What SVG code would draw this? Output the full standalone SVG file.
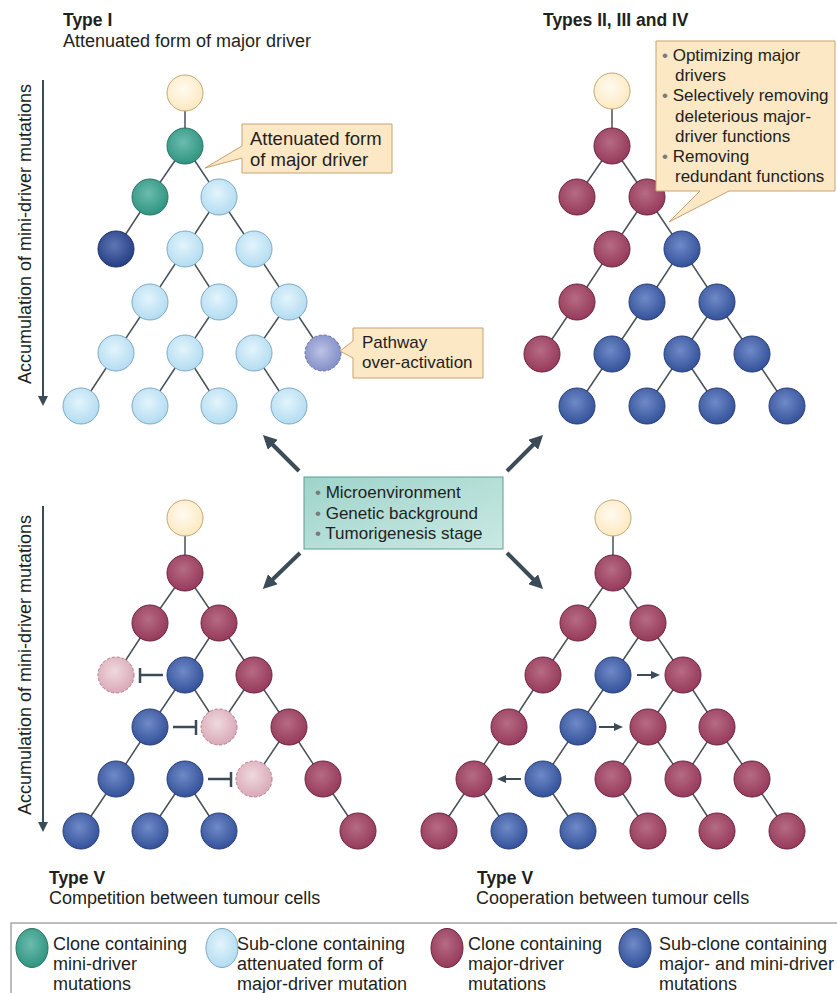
<svg xmlns="http://www.w3.org/2000/svg" width="837" height="993" viewBox="0 0 837 993">
<defs>
<radialGradient id="gy" cx="0.45" cy="0.4" r="0.6"><stop offset="0" stop-color="#fffaf0"/><stop offset="1" stop-color="#fde9c0"/></radialGradient>
<radialGradient id="gt" cx="0.45" cy="0.4" r="0.6"><stop offset="0" stop-color="#6cbcae"/><stop offset="1" stop-color="#2f9480"/></radialGradient>
<radialGradient id="gl" cx="0.45" cy="0.4" r="0.6"><stop offset="0" stop-color="#e3f4fc"/><stop offset="1" stop-color="#b3dcf1"/></radialGradient>
<radialGradient id="gb" cx="0.45" cy="0.4" r="0.6"><stop offset="0" stop-color="#6f8ac8"/><stop offset="1" stop-color="#34529a"/></radialGradient>
<radialGradient id="gb2" cx="0.45" cy="0.4" r="0.6"><stop offset="0" stop-color="#5e76b4"/><stop offset="1" stop-color="#263f84"/></radialGradient>
<radialGradient id="gr" cx="0.45" cy="0.4" r="0.6"><stop offset="0" stop-color="#b66b84"/><stop offset="1" stop-color="#963a5a"/></radialGradient>
<radialGradient id="gp" cx="0.45" cy="0.4" r="0.6"><stop offset="0" stop-color="#efd9df"/><stop offset="1" stop-color="#d9a9b7"/></radialGradient>
<radialGradient id="gv" cx="0.45" cy="0.45" r="0.6"><stop offset="0" stop-color="#bcc3e6"/><stop offset="1" stop-color="#7f8bc4"/></radialGradient>
<linearGradient id="gc" x1="0" y1="0" x2="1" y2="1"><stop offset="0" stop-color="#9fd4cb"/><stop offset="1" stop-color="#c9e9e3"/></linearGradient>
<marker id="ab" markerUnits="userSpaceOnUse" markerWidth="14" markerHeight="14" viewBox="0 0 14 14" refX="4" refY="7" orient="auto"><path d="M0,0 L14,7 L0,14 Z" fill="#3b4b57"/></marker>
<marker id="am" markerUnits="userSpaceOnUse" markerWidth="10" markerHeight="10" viewBox="0 0 10 10" refX="2" refY="5" orient="auto"><path d="M0,0 L10,5 L0,10 Z" fill="#3b4b57"/></marker>
<marker id="as" markerUnits="userSpaceOnUse" markerWidth="9" markerHeight="8" viewBox="0 0 9 8" refX="2" refY="4" orient="auto"><path d="M0,0 L9,4 L0,8 Z" fill="#3b4b57"/></marker>
</defs>
<style>
text{font-family:"Liberation Sans",Arial,sans-serif;fill:#231f20}
.h{font-weight:bold;font-size:17.5px}
.s{font-size:18px}
.c{font-size:17px}
.ca{font-size:18.5px}
.lg{font-size:18px}
.bu{fill:#7a7a7a}
.e{stroke:#4a5258;stroke-width:1.5;fill:none}
.y{fill:url(#gy);stroke:#bfa878;stroke-width:1}
.t{fill:url(#gt);stroke:#2a7263;stroke-width:1}
.l{fill:url(#gl);stroke:#7eaac4;stroke-width:1}
.b{fill:url(#gb);stroke:#283d74;stroke-width:1}
.bd{fill:url(#gb2);stroke:#1f3268;stroke-width:1}
.r{fill:url(#gr);stroke:#6b2340;stroke-width:1}
.p{fill:url(#gp);stroke:#b87c8f;stroke-width:1;stroke-dasharray:3 2}
.v{fill:url(#gv);stroke:#6672aa;stroke-width:1;stroke-dasharray:3 2}
.co{fill:#fde8c6;stroke:#c7a26f;stroke-width:1}
.big{stroke:#3b4b57;stroke-width:4;fill:none;marker-end:url(#ab)}
.ax{stroke:#3b4b57;stroke-width:2;fill:none;marker-end:url(#am)}
.sm{stroke:#3b4b57;stroke-width:2;fill:none;marker-end:url(#as)}
.tb{stroke:#3b4b57;stroke-width:2.5;fill:none}
</style>

<g id="titles">
<text class="h" x="63" y="26">Type I</text>
<text class="s" x="63" y="47">Attenuated form of major driver</text>
<text class="h" x="543" y="26">Types II, III and IV</text>
<text class="h" x="49" y="884">Type V</text>
<text class="s" x="49" y="904">Competition between tumour cells</text>
<text class="h" x="477" y="884">Type V</text>
<text class="s" x="476" y="904">Cooperation between tumour cells</text>
</g>

<g id="axis-top">
<line class="ax" x1="43" y1="80" x2="43" y2="398"/>
<text class="s" transform="translate(31,234) rotate(-90)" text-anchor="middle">Accumulation of mini-driver mutations</text>
</g>
<g id="axis-bottom">
<line class="ax" x1="43" y1="506" x2="43" y2="824"/>
<text class="s" transform="translate(31,665) rotate(-90)" text-anchor="middle">Accumulation of mini-driver mutations</text>
</g>

<g id="connectors">
<path class="e" d="M185,93V146 M185,146L150,197 M185,146L219,197 M150,197L116,249 M219,197L185,249 M219,197L254,249 M185,249L150,302 M185,249L219,302 M254,249L289,302 M150,302L116,353 M219,302L185,353 M289,302L254,353 M289,302L323,353 M116,353L81,406 M185,353L150,406 M185,353L219,406 M254,353L289,406"/>
<path class="e" d="M612,91V146 M612,146L577,197 M612,146L647,197 M647,197L612,249 M647,197L682,249 M612,249L577,302 M682,249L647,302 M682,249L717,302 M577,302L542,354 M647,302L612,354 M717,302L682,354 M717,302L752,354 M612,354L577,406 M682,354L647,406 M682,354L717,406 M752,354L787,406"/>
<path class="e" d="M185,518V573 M185,573L150,623 M185,573L219,623 M150,623L116,675 M219,623L185,675 M219,623L254,675 M185,675L150,727 M185,675L219,727 M254,675L219,727 M254,675L289,727 M150,727L116,779 M289,727L254,779 M289,727L323,779 M116,779L81,831 M185,779L150,831 M185,779L219,831 M323,779L358,831"/>
<path class="e" d="M613,518V573 M613,573L578,623 M613,573L648,623 M578,623L543,675 M648,623L613,675 M648,623L683,675 M543,675L509,727 M613,675L578,727 M683,675L648,727 M683,675L717,727 M509,727L474,779 M578,727L543,779 M648,727L613,779 M648,727L683,779 M717,727L683,779 M717,727L752,779 M474,779L439,831 M474,779L509,831 M543,779L578,831 M613,779L648,831 M683,779L717,831 M752,779L787,831"/>
<line class="big" x1="299" y1="471" x2="270" y2="442"/>
<line class="big" x1="507" y1="471" x2="536" y2="442"/>
<line class="big" x1="300" y1="553" x2="270" y2="582"/>
<line class="big" x1="507" y1="553" x2="536" y2="582"/>
<path class="tb" d="M163,675H140 M140,668V683 M173,727H196 M196,720V735 M208,779H231 M231,772V787"/>
<line class="sm" x1="637" y1="675" x2="653" y2="675"/>
<line class="sm" x1="599" y1="727" x2="616" y2="727"/>
<line class="sm" x1="521" y1="779" x2="504" y2="779"/>
</g>

<g id="tree-type1">
<circle class="y" cx="185" cy="93" r="18"/>
<circle class="t" cx="185" cy="146" r="18"/>
<circle class="t" cx="150" cy="197" r="18"/>
<circle class="l" cx="219" cy="197" r="18"/>
<circle class="bd" cx="116" cy="249" r="18"/>
<circle class="l" cx="185" cy="249" r="18"/>
<circle class="l" cx="254" cy="249" r="18"/>
<circle class="l" cx="150" cy="302" r="18"/>
<circle class="l" cx="219" cy="302" r="18"/>
<circle class="l" cx="289" cy="302" r="18"/>
<circle class="l" cx="116" cy="353" r="18"/>
<circle class="l" cx="185" cy="353" r="18"/>
<circle class="l" cx="254" cy="353" r="18"/>
<circle class="v" cx="323" cy="353" r="18"/>
<circle class="l" cx="81" cy="406" r="18"/>
<circle class="l" cx="150" cy="406" r="18"/>
<circle class="l" cx="219" cy="406" r="18"/>
<circle class="l" cx="289" cy="406" r="18"/>
</g>

<g id="tree-type2-4">
<circle class="y" cx="612" cy="91" r="18"/>
<circle class="r" cx="612" cy="146" r="18"/>
<circle class="r" cx="577" cy="197" r="18"/>
<circle class="r" cx="647" cy="197" r="18"/>
<circle class="r" cx="612" cy="249" r="18"/>
<circle class="b" cx="682" cy="249" r="18"/>
<circle class="r" cx="577" cy="302" r="18"/>
<circle class="b" cx="647" cy="302" r="18"/>
<circle class="b" cx="717" cy="302" r="18"/>
<circle class="r" cx="542" cy="354" r="18"/>
<circle class="b" cx="612" cy="354" r="18"/>
<circle class="b" cx="682" cy="354" r="18"/>
<circle class="b" cx="752" cy="354" r="18"/>
<circle class="b" cx="577" cy="406" r="18"/>
<circle class="b" cx="647" cy="406" r="18"/>
<circle class="b" cx="717" cy="406" r="18"/>
<circle class="b" cx="787" cy="406" r="18"/>
</g>

<g id="tree-competition">
<circle class="y" cx="185" cy="518" r="18"/>
<circle class="r" cx="185" cy="573" r="18"/>
<circle class="r" cx="150" cy="623" r="18"/>
<circle class="r" cx="219" cy="623" r="18"/>
<circle class="p" cx="116" cy="675" r="18"/>
<circle class="b" cx="185" cy="675" r="18"/>
<circle class="r" cx="254" cy="675" r="18"/>
<circle class="b" cx="150" cy="727" r="18"/>
<circle class="p" cx="219" cy="727" r="18"/>
<circle class="r" cx="289" cy="727" r="18"/>
<circle class="b" cx="116" cy="779" r="18"/>
<circle class="b" cx="185" cy="779" r="18"/>
<circle class="p" cx="254" cy="779" r="18"/>
<circle class="r" cx="323" cy="779" r="18"/>
<circle class="b" cx="81" cy="831" r="18"/>
<circle class="b" cx="150" cy="831" r="18"/>
<circle class="b" cx="219" cy="831" r="18"/>
<circle class="r" cx="358" cy="831" r="18"/>
</g>

<g id="tree-cooperation">
<circle class="y" cx="613" cy="518" r="18"/>
<circle class="r" cx="613" cy="573" r="18"/>
<circle class="r" cx="578" cy="623" r="18"/>
<circle class="r" cx="648" cy="623" r="18"/>
<circle class="r" cx="543" cy="675" r="18"/>
<circle class="b" cx="613" cy="675" r="18"/>
<circle class="r" cx="683" cy="675" r="18"/>
<circle class="r" cx="509" cy="727" r="18"/>
<circle class="b" cx="578" cy="727" r="18"/>
<circle class="r" cx="648" cy="727" r="18"/>
<circle class="r" cx="717" cy="727" r="18"/>
<circle class="r" cx="474" cy="779" r="18"/>
<circle class="b" cx="543" cy="779" r="18"/>
<circle class="r" cx="613" cy="779" r="18"/>
<circle class="r" cx="683" cy="779" r="18"/>
<circle class="r" cx="752" cy="779" r="18"/>
<circle class="r" cx="439" cy="831" r="18"/>
<circle class="b" cx="509" cy="831" r="18"/>
<circle class="b" cx="578" cy="831" r="18"/>
<circle class="r" cx="648" cy="831" r="18"/>
<circle class="r" cx="717" cy="831" r="18"/>
<circle class="r" cx="787" cy="831" r="18"/>
</g>

<g id="callout-attenuated">
<path class="co" d="M242,124H392V173H242V158L205,168L242,146Z"/>
<text class="ca" x="250" y="145">Attenuated form</text>
<text class="ca" x="250" y="166">of major driver</text>
</g>

<g id="callout-pathway">
<path class="co" d="M353,328H483V378H353V358L340,351L353,341Z"/>
<text class="c" x="362" y="348">Pathway</text>
<text class="c" x="362" y="368">over-activation</text>
</g>

<g id="callout-types">
<path class="co" d="M656,41H835V191H729L669,222L700,191H656Z"/>
<text class="c" x="662" y="61"><tspan class="bu">•</tspan> Optimizing major</text>
<text class="c" x="675" y="81">drivers</text>
<text class="c" x="662" y="101"><tspan class="bu">•</tspan> Selectively removing</text>
<text class="c" x="675" y="122">deleterious major-</text>
<text class="c" x="675" y="142">driver functions</text>
<text class="c" x="662" y="162"><tspan class="bu">•</tspan> Removing</text>
<text class="c" x="675" y="182">redundant functions</text>
</g>

<g id="centre-factors">
<rect x="304" y="477" width="199" height="72" fill="url(#gc)" stroke="#5f9e94" stroke-width="1"/>
<text class="c" x="315" y="498"><tspan class="bu">•</tspan> Microenvironment</text>
<text class="c" x="315" y="519"><tspan class="bu">•</tspan> Genetic background</text>
<text class="c" x="315" y="539"><tspan class="bu">•</tspan> Tumorigenesis stage</text>
</g>

<g id="legend">
<rect x="11" y="923" width="840" height="100" fill="none" stroke="#a8a8a8" stroke-width="1.5"/>
<ellipse class="t" cx="32" cy="948" rx="16" ry="19.5"/>
<text class="lg" x="53" y="950">Clone containing</text>
<text class="lg" x="53" y="970">mini-driver</text>
<text class="lg" x="53" y="990">mutations</text>
<ellipse class="l" cx="222" cy="948" rx="16" ry="19.5"/>
<text class="lg" x="237" y="950">Sub-clone containing</text>
<text class="lg" x="237" y="970">attenuated form of</text>
<text class="lg" x="237" y="990">major-driver mutation</text>
<ellipse class="r" cx="447" cy="948" rx="16" ry="19.5"/>
<text class="lg" x="468" y="950">Clone containing</text>
<text class="lg" x="468" y="970">major-driver</text>
<text class="lg" x="468" y="990">mutations</text>
<ellipse class="b" cx="635" cy="948" rx="16" ry="19.5"/>
<text class="lg" x="659" y="950">Sub-clone containing</text>
<text class="lg" x="659" y="970">major- and mini-driver</text>
<text class="lg" x="659" y="990">mutations</text>
</g>
</svg>
